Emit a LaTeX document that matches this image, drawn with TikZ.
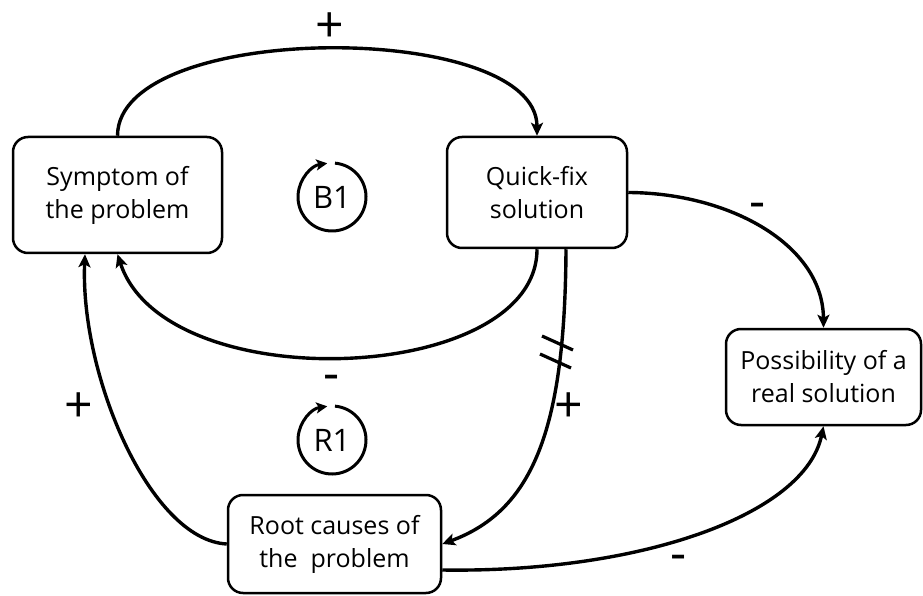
\documentclass[tikz,border=0pt]{standalone}
\usepackage{fontspec}
\setmainfont{Open Sans}
\usetikzlibrary{arrows.meta}
\begin{document}
\begin{tikzpicture}[x=1pt,y=1pt,
  box/.style={draw, line width=2.5pt, rounded corners=15pt, inner sep=0pt,
    align=center, font=\fontsize{25}{33}\selectfont},
  link/.style={line width=3.4pt, -{Stealth[length=13pt,width=12pt,inset=3pt]}},
  sign/.style={font=\fontsize{50}{50}\selectfont, inner sep=0pt},
  looplabel/.style={font=\fontsize{31}{31}\selectfont, inner sep=0pt},
  looparc/.style={line width=3pt, -{Stealth[length=11pt,width=11pt,inset=2.5pt]}},
  delay/.style={line width=3.2pt}
]
\useasboundingbox (0,0) rectangle (923,595);

% variables
\node[box, minimum width=209pt, minimum height=116pt] (sym) at (117.5,400) {Symptom of\\the problem};
\node[box, minimum width=180pt, minimum height=111pt] (qf) at (537,402.5) {Quick-fix\\solution};
\node[box, minimum width=195pt, minimum height=96pt] (pos) at (823.5,218) {Possibility of a\\real solution};
\node[box, minimum width=213pt, minimum height=98pt] (root) at (334.5,51) {Root causes of\\the~~problem};

% loop markers
\node[looplabel] (b1) at (332,398) {B1};
\node[looplabel] (r1) at (332,155) {R1};
\draw[looparc] ([shift={(85:34)}]b1.center) arc[start angle=85, end angle=-262, radius=34];
\draw[looparc] ([shift={(85:34)}]r1.center) arc[start angle=85, end angle=-262, radius=34];

% causal links
\draw[link] (sym.north) .. controls (118,575) and (537,575) .. (qf.north);
\draw[link] (qf.south) .. controls (537,210) and (165,195) .. (sym.south);
\draw[link] ([xshift=29pt]qf.south) .. controls (565,170) and (535,85) .. (root.east);
\draw[link] (root.west) .. controls (150,55) and (80,220) .. ([xshift=-32.5pt]sym.south);
\draw[link] (qf.east) .. controls (730,402) and (823,350) .. (pos.north);
\draw[link] ([yshift=-26pt]root.east) .. controls (640,22) and (805,80) .. (pos.south);

% delay marks
\draw[delay] (542,259) -- (573,245);
\draw[delay] (540,241) -- (571,227);

% polarities
\node[sign] (p1) at (330,567) {+};
\node[sign] (m1) at (758,384) {-};
\node[sign] (m2) at (332,212) {-};
\node[sign] (p2) at (79,187) {+};
\node[sign] (p3) at (569,187) {+};
\node[sign] (m3) at (679,32) {-};
\end{tikzpicture}
\end{document}
